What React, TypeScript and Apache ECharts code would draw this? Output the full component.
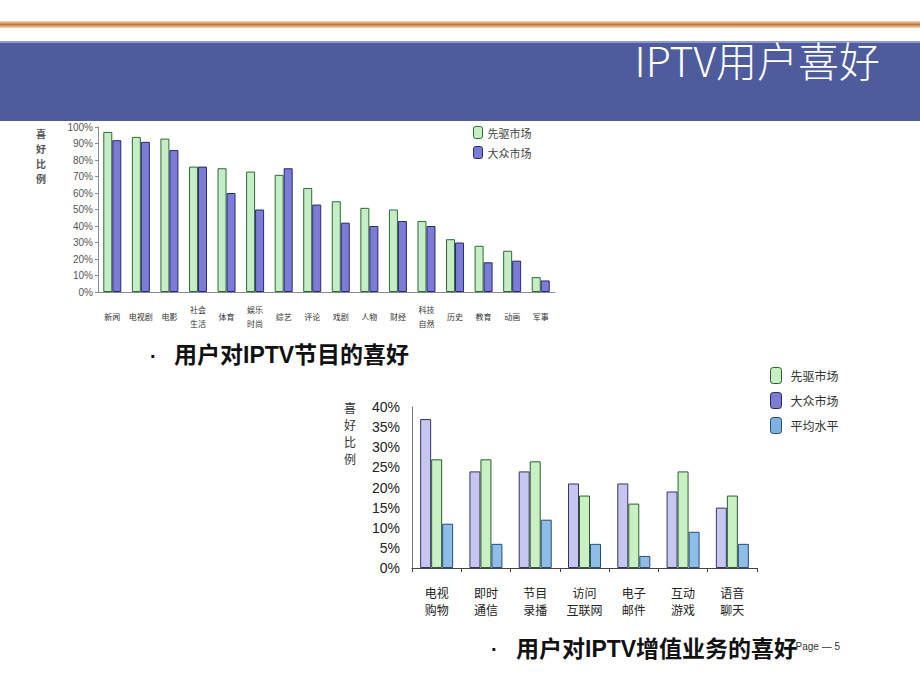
import React, { useEffect, useRef } from "react";
import * as echarts from "echarts";

// ---- Data: chart 1 (programme preference) ----
const programCats = ["新闻", "电视剧", "电影", "社会\n生活", "体育", "娱乐\n时尚", "综艺", "评论", "戏剧", "人物", "财经", "科技\n自然", "历史", "教育", "动画", "军事"];
const programPioneer = [97, 94, 93, 76, 75, 73, 71, 63, 55, 51, 50, 43, 32, 28, 25, 9];
const programMass = [92, 91, 86, 76, 60, 50, 75, 53, 42, 40, 43, 40, 30, 18, 19, 7];
const programTicks = { min: 0, max: 100, interval: 10 };

// ---- Data: chart 2 (value-added services) ----
const serviceCats = ["电视\n购物", "即时\n通信", "节目\n录播", "访问\n互联网", "电子\n邮件", "互动\n游戏", "语音\n聊天"];
const serviceMass = [37, 24, 24, 21, 21, 19, 15];
const servicePioneer = [27, 27, 26.5, 18, 16, 24, 18];
const serviceAverage = [11, 6, 12, 6, 3, 9, 6];
const serviceTicks = { min: 0, max: 40, interval: 5 };

const S_PIONEER = "先驱市场";
const S_MASS = "大众市场";
const S_AVG = "平均水平";

const CJK = '"Noto Sans CJK SC", "Noto Sans", sans-serif';
const BOLD = '"Liberation Sans", "Noto Sans CJK SC", sans-serif';

export default function App() {
  const ref = useRef<HTMLDivElement>(null);

  useEffect(() => {
    if (!ref.current) return;
    const chart = echarts.init(ref.current, null, { renderer: "svg" });

    const c1Green = { color: "#c6eec6", borderColor: "#2f6a34", borderWidth: 1 };
    const c1Blue = { color: "#7c7cd6", borderColor: "#262a6e", borderWidth: 1 };
    const c2Purple = { color: "#c6c6f0", borderColor: "#34346a", borderWidth: 1 };
    const c2Green = { color: "#c8f0c2", borderColor: "#2e5c30", borderWidth: 1 };
    const c2Blue = { color: "#8dbde8", borderColor: "#2a4c70", borderWidth: 1 };

    const option: any = {
      animation: false,
      backgroundColor: "#ffffff",
      textStyle: { fontFamily: CJK },
      graphic: [
        {
          type: "rect",
          shape: { x: 0, y: 21, width: 920, height: 7 },
          style: {
            fill: new echarts.graphic.LinearGradient(0, 0, 0, 1, [
              { offset: 0, color: "#f6dcc4" },
              { offset: 0.5, color: "#c77637" },
              { offset: 1, color: "#f4d8c0" },
            ]),
          },
          z: 0,
        },
        {
          type: "rect",
          shape: { x: 0, y: 42, width: 920, height: 79 },
          style: { fill: "#4e5c9e" },
          z: 0,
        },
        {
          type: "rect",
          shape: { x: 0, y: 41, width: 920, height: 2 },
          style: { fill: "#8e9ac8" },
          z: 0,
        },
        {
          type: "text",
          right: 40,
          top: 38,
          style: {
            text: "IPTV用户喜好",
            fill: "#ffffff",
            font: `300 41px ${CJK}`,
          },
          z: 2,
        },
        {
          type: "text",
          left: 36,
          top: 126,
          style: {
            text: "喜\n好\n比\n例",
            fill: "#555555",
            font: `bold 10px ${CJK}`,
            lineHeight: 15,
          },
        },
        {
          type: "text",
          left: 344,
          top: 399,
          style: {
            text: "喜\n好\n比\n例",
            fill: "#333333",
            font: `12px ${CJK}`,
            lineHeight: 17,
          },
        },
        {
          type: "text",
          left: 150,
          top: 346,
          style: { text: "·", fill: "#111111", font: `bold 20px ${BOLD}` },
        },
        {
          type: "text",
          left: 174,
          top: 343,
          style: { text: "用户对IPTV节目的喜好", fill: "#111111", font: `bold 23px ${BOLD}` },
        },
        {
          type: "text",
          right: 80,
          top: 641,
          style: { text: "Page — 5", fill: "#333333", font: `10px ${BOLD}` },
          z: 1,
        },
        {
          type: "text",
          left: 491,
          top: 639,
          style: { text: "·", fill: "#111111", font: `bold 20px ${BOLD}` },
          z: 3,
        },
        {
          type: "text",
          left: 516,
          top: 637,
          style: { text: "用户对IPTV增值业务的喜好", fill: "#111111", font: `bold 23px ${BOLD}` },
          z: 3,
        },
      ],
      legend: [
        {
          orient: "vertical",
          left: 468,
          top: 121,
          itemWidth: 9,
          itemHeight: 12,
          itemGap: 7,
          textStyle: { fontSize: 11, color: "#444444", fontFamily: CJK },
          data: [
            { name: S_PIONEER, itemStyle: c1Green },
            { name: S_MASS, itemStyle: c1Blue },
          ],
          selectedMode: false,
        },
        {
          orient: "vertical",
          left: 765,
          top: 362,
          itemWidth: 11,
          itemHeight: 16,
          itemGap: 8,
          textStyle: { fontSize: 12, color: "#333333", fontFamily: CJK, padding: [0, 0, 0, 4] },
          data: [
            { name: S_PIONEER, itemStyle: c2Green },
            { name: S_MASS, itemStyle: { color: "#7c7cd2", borderColor: "#262a6e", borderWidth: 1 } },
            { name: S_AVG, itemStyle: { color: "#7fb2e2", borderColor: "#2a4c70", borderWidth: 1 } },
          ],
          selectedMode: false,
        },
      ],
      grid: [
        { left: 98, top: 127, width: 457, height: 165, containLabel: false },
        { left: 412, top: 407, width: 345, height: 161, containLabel: false },
      ],
      xAxis: [
        {
          type: "category",
          gridIndex: 0,
          data: programCats,
          axisLine: { lineStyle: { color: "#8a8a8a", width: 1 } },
          axisTick: { show: false },
          axisLabel: {
            interval: 0,
            fontSize: 8,
            color: "#333333",
            fontFamily: CJK,
            verticalAlign: "middle",
            margin: 24,
            lineHeight: 14,
          },
        },
        {
          type: "category",
          gridIndex: 1,
          data: serviceCats,
          axisLine: { lineStyle: { color: "#444444", width: 1 } },
          axisTick: { show: true, length: 4, lineStyle: { color: "#444444" } },
          axisLabel: {
            interval: 0,
            fontSize: 12,
            color: "#222222",
            fontFamily: CJK,
            margin: 16,
            lineHeight: 17,
          },
        },
      ],
      yAxis: [
        {
          type: "value",
          gridIndex: 0,
          min: programTicks.min,
          max: programTicks.max,
          interval: programTicks.interval,
          axisLine: { show: true, lineStyle: { color: "#8a8a8a" } },
          axisTick: { show: true, length: 3, lineStyle: { color: "#8a8a8a" } },
          splitLine: { show: false },
          axisLabel: {
            formatter: (v: number) => `${v}%`,
            fontSize: 10,
            color: "#555555",
            fontFamily: '"Liberation Sans", sans-serif',
            margin: 5,
          },
        },
        {
          type: "value",
          gridIndex: 1,
          min: serviceTicks.min,
          max: serviceTicks.max,
          interval: serviceTicks.interval,
          axisLine: { show: true, lineStyle: { color: "#777777" } },
          axisTick: { show: false },
          splitLine: { show: false },
          axisLabel: {
            formatter: (v: number) => `${v}%`,
            fontSize: 14,
            color: "#222222",
            fontFamily: '"Liberation Sans", sans-serif',
            margin: 12,
          },
        },
      ],
      series: [
        {
          name: S_PIONEER,
          type: "bar",
          xAxisIndex: 0,
          yAxisIndex: 0,
          data: programPioneer,
          barWidth: 9,
          barGap: "0%",
          itemStyle: c1Green,
        },
        {
          name: S_MASS,
          type: "bar",
          xAxisIndex: 0,
          yAxisIndex: 0,
          data: programMass,
          barWidth: 9,
          barGap: "0%",
          itemStyle: c1Blue,
        },
        {
          name: S_MASS,
          type: "bar",
          xAxisIndex: 1,
          yAxisIndex: 1,
          data: serviceMass,
          barWidth: 11,
          barGap: "0%",
          itemStyle: c2Purple,
        },
        {
          name: S_PIONEER,
          type: "bar",
          xAxisIndex: 1,
          yAxisIndex: 1,
          data: servicePioneer,
          barWidth: 11,
          barGap: "0%",
          itemStyle: c2Green,
        },
        {
          name: S_AVG,
          type: "bar",
          xAxisIndex: 1,
          yAxisIndex: 1,
          data: serviceAverage,
          barWidth: 11,
          barGap: "0%",
          itemStyle: c2Blue,
        },
      ],
    };

    chart.setOption(option);
    return () => chart.dispose();
  }, []);

  return (
    <div
      ref={ref}
      style={{ position: "fixed", left: 0, top: 0, width: 920, height: 690, background: "#ffffff" }}
    />
  );
}
